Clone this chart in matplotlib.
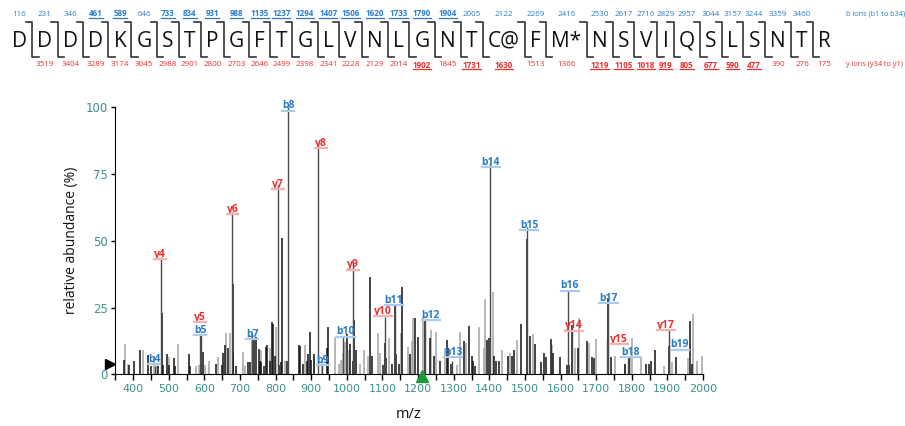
import matplotlib
matplotlib.use("Agg")
import matplotlib.pyplot as plt
from matplotlib.lines import Line2D
from matplotlib.transforms import IdentityTransform
from matplotlib.ticker import MultipleLocator

plt.rcParams['font.family'] = ['Open Sans', 'DejaVu Sans']

# peptide sequence and fragment ladders
residues = ['D', 'D', 'D', 'D', 'K', 'G', 'S', 'T', 'P', 'G', 'F', 'T', 'G', 'L', 'V', 'N', 'L',
            'G', 'N', 'T', 'C@', 'F', 'M*', 'N', 'S', 'V', 'I', 'Q', 'S', 'L', 'S', 'N', 'T', 'R']
b_ions = [116, 231, 346, 461, 589, 646, 733, 834, 931, 988, 1135, 1237, 1294, 1407, 1506, 1620,
          1733, 1790, 1904, 2005, 2122, 2269, 2416, 2530, 2617, 2716, 2829, 2957, 3044, 3157,
          3244, 3359, 3460]
y_ions = [3519, 3404, 3289, 3174, 3045, 2988, 2901, 2800, 2703, 2646, 2499, 2398, 2341, 2228,
          2129, 2014, 1902, 1845, 1731, 1630, 1513, 1366, 1219, 1105, 1018, 919, 805, 677, 590,
          477, 390, 276, 175]
b_found = [461, 589, 733, 834, 931, 988, 1135, 1237, 1294, 1407, 1506, 1620, 1733, 1790, 1904]
y_found = [1902, 1731, 1630, 1219, 1105, 1018, 919, 805, 677, 590, 477]

# unassigned peaks, dark and light
dark_mz = [375, 388, 402, 419, 442, 451, 470, 480.5, 484, 495.5, 500, 514, 517, 556, 560, 590,
           595, 632, 650, 653, 657, 665, 679, 681, 690, 722, 728, 740, 746, 752, 756, 760, 767,
           772, 777, 783, 790, 793, 798, 810, 814, 818, 833, 866, 869, 876, 887, 891, 896, 900,
           907, 943, 947, 1001, 1010, 1016, 1020, 1027, 1066, 1072, 1102, 1106.5, 1111, 1126,
           1134.6, 1139, 1147, 1156, 1177, 1190.7, 1200, 1220, 1233, 1244, 1262, 1281.5, 1285,
           1293, 1328, 1342, 1350, 1355, 1360, 1394, 1399, 1413, 1420, 1428, 1453, 1465, 1470,
           1490, 1507, 1515, 1528, 1545, 1553, 1558, 1572, 1579, 1599, 1617, 1624, 1631, 1650,
           1673, 1687, 1693, 1732, 1743, 1781, 1793, 1841, 1848, 1855, 1865, 1904, 1925, 1963,
           1970]
dark_int = [5.4, 3.5, 4.8, 9.2, 7.3, 3.2, 3.0, 23, 3.5, 7.5, 3.5, 6, 3, 7.5, 3, 14.8,
            8.5, 4, 3.5, 8, 11, 10, 34, 8, 3, 4.5, 4.5, 13, 14, 9.5, 5, 4.5, 3,
            10.4, 11, 5, 19.5, 19, 7, 3.5, 4.5, 51, 5, 11, 10.5, 4, 5, 7.5, 16, 5.5,
            7.5, 9.8, 17.6, 15.1, 11.4, 5, 20.4, 9, 36.4, 7, 3.5, 11.7, 6, 4,
            25.6, 7.5, 4, 32.6, 7.5, 21, 14.1, 20.4, 13.5, 7, 5, 12.9, 10,
            4, 12.3, 18.1, 7, 5, 3, 12.9, 13.5, 7, 5, 5, 7, 7, 9,
            18.9, 50.6, 14.4, 11.5, 4.7, 7.9, 6.5, 13.2, 8, 6.5, 3.5, 3.5, 18.5, 10,
            12.6, 6.5, 6, 28.5, 6.5, 4, 6.5, 4, 4, 5, 9.2, 10.7, 6.5, 19.8,
            4]
light_mz = [377, 386, 428, 459, 466, 500, 526, 576, 584, 602, 613, 638, 660, 671, 707, 713, 735,
            758, 785, 800, 826, 882, 909, 931, 966, 978, 983, 990, 996, 1006, 1038, 1047.6, 1060,
            1088, 1094, 1118, 1151, 1172, 1182, 1186, 1214, 1237.5, 1251.6, 1275, 1308, 1317,
            1334, 1371, 1384, 1389, 1411, 1437, 1458, 1478, 1523, 1576, 1640, 1652, 1679, 1699,
            1734, 1752, 1782, 1795, 1802, 1827, 1891, 1912, 1958, 1972, 1983, 1998]
light_int = [11.4, 4, 9, 6.7, 4, 6.5, 11.3, 3, 3.5, 3.5, 4.8, 6.5, 15.6, 15.6, 8.5, 3, 15.4,
             9, 10, 17.6, 5, 11, 6, 4.5, 13.5, 4, 5.5, 8, 12.2, 9, 4, 9.2, 7,
             15.4, 8, 13.5, 15.4, 10.4, 12.5, 21, 21.5, 16.6, 16, 10, 3.5, 16,
             11.7, 17.9, 10, 28.1, 31, 9.2, 8, 12.9, 15, 11, 10, 21, 11.7, 13.2,
             13.5, 7, 4, 6, 13.5, 6.5, 3, 4.5, 6, 22.6, 5, 6.9]

# assigned fragment ions
ion_names = ['b4', 'y4', 'b5', 'y5', 'y6', 'b7', 'y7', 'b8', 'y8', 'b9', 'b10', 'y9', 'y10',
             'b11', 'b12', 'b13', 'b14', 'b15', 'b16', 'y14', 'b17', 'y15', 'b18', 'y17', 'b19']
ion_mz = [461, 477, 589, 590, 677, 735, 806, 836, 919.5, 931, 988, 1018, 1106, 1135, 1220,
          1294, 1403, 1506, 1621, 1632, 1732, 1731, 1790, 1904, 1904]
ion_int = [3, 44, 15, 15, 60.6, 15, 71, 100, 86.5, 4, 14, 41.6, 21.5, 25.6, 20.4,
           5, 79.3, 55.3, 31.4, 18.5, 28.5, 13, 5, 17, 11]
label_mz = [459, 475, 588, 588, 679, 734, 807, 835, 927, 933, 996, 1018, 1102, 1132, 1236,
            1298, 1404, 1512, 1626, 1638, 1734, 1764, 1797, 1897, 1935]
label_int = [5.7, 45, 16.4, 21.3, 61.8, 14.8, 71.2, 100.5, 86.5, 5.2, 15.9, 41, 23.5, 27.8, 22,
             8.2, 79.4, 55.7, 33.1, 18.1, 28.5, 13.2, 8.2, 18.4, 11.0]

threshold_level = 4
precursor_mz = 1210

BLUE = '#2a7cc9'
RED = '#e8302c'
TEAL = '#3d8f8f'

W, H = 905, 426
fig = plt.figure(figsize=(W / 100, H / 100), dpi=100)
ax = fig.add_axes([115 / W, (H - 374.3) / H, 588 / W, 267 / H])
renderer = fig.canvas.get_renderer()


def fx(x):
    return x / W


def fy(y):
    return 1 - y / H


def underline(t, color, lw=1.0, off=0.5):
    bb = t.get_window_extent(renderer)
    fig.add_artist(Line2D([bb.x0, bb.x1], [bb.y0 + off, bb.y0 + off], color=color, lw=lw,
                          transform=IdentityTransform()))


# ---- sequence with fragment brackets ----
seq_size = 15
widths = []
for r in residues:
    t = fig.text(0, 0, r, fontsize=seq_size)
    widths.append(t.get_window_extent(renderer).width)
    t.remove()
gap = (831 - 12 - sum(widths)) / (len(residues) - 1)

x = 12
centers = []
for i, r in enumerate(residues):
    c = x + widths[i] / 2
    centers.append(c)
    fig.text(fx(c), fy(46.7), r, ha='center', va='baseline', fontsize=seq_size, color='#111')
    x += widths[i]
    if i < len(residues) - 1:
        sx = x + gap / 2
        tail = gap * 0.62
        fig.add_artist(Line2D([fx(sx - tail), fx(sx), fx(sx), fx(sx + tail)],
                              [fy(22.3), fy(22.3), fy(56.7), fy(56.7)], color='#333', lw=1.2))
    x += gap

for i, v in enumerate(b_ions):
    hit = v in b_found
    t = fig.text(fx(centers[i]), fy(14), str(v), ha='center', va='center', fontsize=5.8,
                 color=BLUE, fontweight='bold' if hit else 'normal')
    if hit:
        underline(t, BLUE, lw=0.9, off=0.3)
for i, v in enumerate(y_ions):
    hit = v in y_found
    t = fig.text(fx(centers[i + 1]), fy(65), str(v), ha='center', va='center', fontsize=5.8,
                 color=RED, fontweight='bold' if hit else 'normal')
    if hit:
        underline(t, RED, lw=0.9, off=0.3)

fig.text(fx(846), fy(14), 'b ions (b1 to b34)', ha='left', va='center', fontsize=5.3, color=BLUE)
fig.text(fx(846), fy(65), 'y ions (y34 to y1)', ha='left', va='center', fontsize=5.3, color=RED)

# ---- spectrum ----
ax.vlines(light_mz, 0, light_int, color='#a3a3a3', lw=1.1)
ax.vlines(dark_mz, 0, dark_int, color='#111111', lw=1.1)
ax.vlines(ion_mz, 0, ion_int, color='#4a4a4a', lw=1.0)

ax.plot(334, threshold_level, marker='>', color='black', markersize=7, clip_on=False, zorder=6)
ax.plot(precursor_mz, -0.8, marker='^', color='#1b9a3c', markersize=9, clip_on=False, zorder=6)

ax.set_xlim(349, 2000)
ax.set_ylim(0, 100)
ax.set_yticks([0, 25, 50, 75, 100])
ax.xaxis.set_major_locator(MultipleLocator(100))
ax.xaxis.set_minor_locator(MultipleLocator(50))
ax.set_xticks(range(400, 2001, 100))
ax.tick_params(axis='x', which='both', direction='out', length=4, width=1, labelsize=8,
               labelcolor=TEAL, pad=3)
ax.tick_params(axis='y', direction='out', length=3, width=1, labelsize=8.5, labelcolor=TEAL, pad=2)
for lab in ax.get_xticklabels() + ax.get_yticklabels():
    lab.set_family('DejaVu Sans')
ax.spines['top'].set_visible(False)
ax.spines['right'].set_visible(False)
ax.set_ylabel('relative abundance (%)', fontsize=10, labelpad=5, color='#111')
ax.set_xlabel('m/z', fontsize=10.5, labelpad=9, color='#111')

ion_texts = []
for name, lx, ly in zip(ion_names, label_mz, label_int):
    col = BLUE if name.startswith('b') else RED
    t = ax.text(lx, ly, name, ha='center', va='center', fontsize=7.5, fontweight='bold',
                color=col, clip_on=False, zorder=6)
    ion_texts.append(t)

fig.canvas.draw()
for name, t in zip(ion_names, ion_texts):
    light = '#a9cbee' if name.startswith('b') else '#f6b0ae'
    underline(t, light, lw=1.6, off=0.8)

fig.savefig('out.png', dpi=100)
